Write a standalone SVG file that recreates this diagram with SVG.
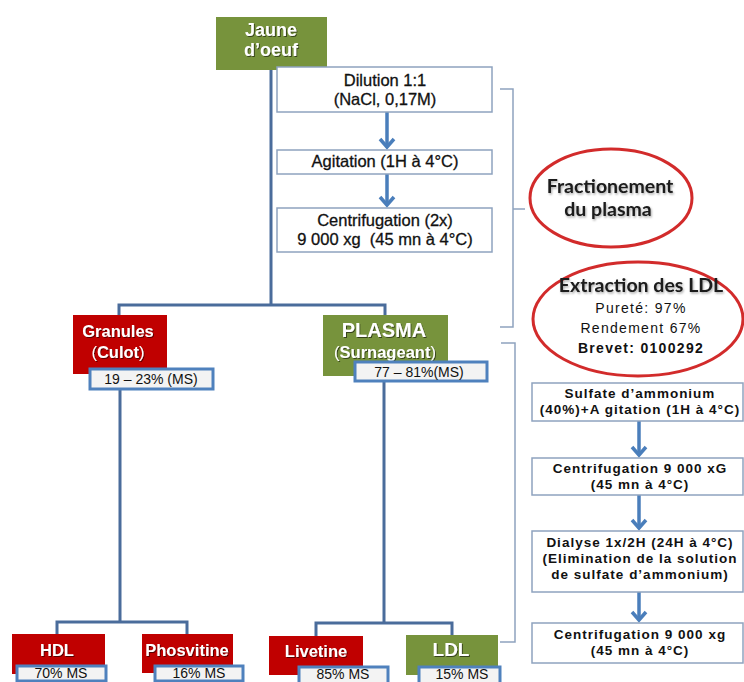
<svg xmlns="http://www.w3.org/2000/svg" width="744" height="682" viewBox="0 0 744 682">
<defs>
<marker id="ah" markerUnits="userSpaceOnUse" viewBox="-10 -9 12 18" refX="0" refY="0" markerWidth="12" markerHeight="18" orient="auto" overflow="visible">
<path d="M-8,-7 L0,0 L-8,7" fill="none" stroke="#4a7ebb" stroke-width="3.5"/>
</marker>
<filter id="ts" x="-10%" y="-30%" width="130%" height="160%"><feDropShadow dx="1" dy="1" stdDeviation="0.7" flood-color="#000" flood-opacity="0.55"/></filter>
<filter id="gs" x="-10%" y="-30%" width="130%" height="160%"><feDropShadow dx="1" dy="1.5" stdDeviation="1.2" flood-color="#000" flood-opacity="0.35"/></filter>
<style>
.proc{fill:#fff;stroke:#8ea3bf;stroke-width:1.5}
.ltxt{font-family:"Liberation Sans",Arial,sans-serif;font-size:16.5px;fill:#111;stroke:#111;stroke-width:0.3;text-anchor:middle}
.rtxt{font-family:"Liberation Sans",Arial,sans-serif;font-size:13.5px;font-weight:bold;fill:#111;text-anchor:middle;letter-spacing:1px}
.red{fill:#c00000}
.green{fill:#77933c}
.wl{font-family:"Liberation Sans",Arial,sans-serif;font-weight:bold;fill:#fff;text-anchor:middle;filter:url(#ts)}
.pct{fill:#f3f3f3;stroke:#4f81bd;stroke-width:3}
.ptxt{font-family:"Liberation Sans",Arial,sans-serif;font-size:14px;fill:#111;text-anchor:middle}
.tree{fill:none;stroke:#4a6c9b;stroke-width:3}
.arrow{stroke:#4a7ebb;stroke-width:3.5;marker-end:url(#ah)}
.brace{fill:none;stroke:#8ea3bf;stroke-width:1.5}
.oval{fill:#fff;stroke:#d22b2b;stroke-width:3}
.otitle{font-family:Lato,"Open Sans",sans-serif;font-weight:bold;fill:#1a1a1a;text-anchor:middle;font-size:19.5px;filter:url(#gs)}
.osub{font-family:"Liberation Sans",Arial,sans-serif;font-size:14px;fill:#111;text-anchor:middle;letter-spacing:1.3px}
</style>
</defs>
<rect width="744" height="682" fill="#fff"/>

<g id="connectors">
<path class="tree" d="M271,70 V305 M119,315 V305 H385 V315"/>
<path class="tree" d="M120,389 V622 M57,634 V622 H187 V634"/>
<path class="tree" d="M384,381 V623 M316,636 V623 H452 V635"/>
<line class="arrow" x1="387" y1="112" x2="387" y2="147"/>
<line class="arrow" x1="387" y1="174" x2="387" y2="205"/>
<line class="arrow" x1="639" y1="421" x2="639" y2="455"/>
<line class="arrow" x1="639" y1="495" x2="639" y2="528"/>
<line class="arrow" x1="639" y1="592" x2="639" y2="620"/>
<path class="brace" d="M500,89 H513 V327 H500 M513,209 H525"/>
<path class="brace" d="M501,343 H515 V642 H500"/>
</g>

<g id="jaune">
<rect class="green" x="216" y="17" width="111" height="53"/>
<text class="wl" x="271" y="36" font-size="18">Jaune</text>
<text class="wl" x="271" y="56" font-size="18">d’oeuf</text>
</g>

<g id="dilution">
<rect class="proc" x="277" y="67" width="215" height="45"/>
<text class="ltxt" x="385" y="86">Dilution 1:1</text>
<text class="ltxt" x="385" y="105">(NaCl, 0,17M)</text>
</g>

<g id="agitation">
<rect class="proc" x="277" y="150" width="215" height="24"/>
<text class="ltxt" x="385" y="167">Agitation (1H à 4°C)</text>
</g>

<g id="centrifugation1">
<rect class="proc" x="277" y="208" width="215" height="44"/>
<text class="ltxt" x="385" y="226">Centrifugation (2x)</text>
<text class="ltxt" x="385" y="245" xml:space="preserve">9 000 xg  (45 mn à 4°C)</text>
</g>

<g id="fractionnement">
<ellipse class="oval" cx="611" cy="198" rx="81" ry="49"/>
<text class="otitle" x="610" y="193">Fractionement</text>
<text class="otitle" x="608" y="216">du plasma</text>
</g>

<g id="extraction">
<ellipse class="oval" cx="638" cy="319" rx="105" ry="57"/>
<text class="otitle" x="641" y="292">Extraction des LDL</text>
<text class="osub" x="641" y="313">Pureté: 97%</text>
<text class="osub" x="641" y="333">Rendement 67%</text>
<text class="osub" x="641" y="353" font-weight="bold">Brevet: 0100292</text>
</g>

<g id="granules">
<rect class="red" x="73" y="315" width="94" height="59"/>
<text class="wl" x="118" y="337" font-size="16.5">Granules</text>
<text class="wl" x="118" y="358" font-size="16.5"><tspan font-weight="normal">(</tspan>Culot<tspan font-weight="normal">)</tspan></text>
<rect class="pct" x="90" y="369" width="123" height="20"/>
<text class="ptxt" x="151" y="384">19 – 23% (MS)</text>
</g>

<g id="plasma">
<rect class="green" x="323" y="315" width="125" height="61"/>
<text class="wl" x="384" y="337" font-size="20">PLASMA</text>
<text class="wl" x="385" y="358" font-size="16.5"><tspan font-weight="normal">(</tspan>Surnageant<tspan font-weight="normal">)</tspan></text>
<rect class="pct" x="355" y="362" width="132" height="19"/>
<text class="ptxt" x="419" y="377">77 – 81%(MS)</text>
</g>

<g id="sulfate">
<rect class="proc" x="532" y="383" width="211" height="38"/>
<text class="rtxt" x="640" y="398">Sulfate d’ammonium</text>
<text class="rtxt" x="640" y="414">(40%)+A gitation (1H à 4°C)</text>
</g>

<g id="centrifugation2">
<rect class="proc" x="532" y="458" width="211" height="37"/>
<text class="rtxt" x="640" y="473">Centrifugation 9 000 xG</text>
<text class="rtxt" x="640" y="489">(45 mn à 4°C)</text>
</g>

<g id="dialyse">
<rect class="proc" x="532" y="531" width="211" height="61"/>
<text class="rtxt" x="640" y="547">Dialyse 1x/2H (24H à 4°C)</text>
<text class="rtxt" x="640" y="563">(Elimination de la solution</text>
<text class="rtxt" x="640" y="579">de sulfate d’ammonium)</text>
</g>

<g id="centrifugation3">
<rect class="proc" x="532" y="623" width="211" height="40"/>
<text class="rtxt" x="640" y="639">Centrifugation 9 000 xg</text>
<text class="rtxt" x="640" y="655">(45 mn à 4°C)</text>
</g>

<g id="hdl">
<rect class="red" x="12" y="634" width="93" height="40"/>
<text class="wl" x="57" y="656" font-size="16.5">HDL</text>
<rect class="pct" x="17" y="666" width="89" height="15"/>
<text class="ptxt" x="61" y="678">70% MS</text>
</g>

<g id="phosvitine">
<rect class="red" x="142" y="634" width="91" height="39"/>
<text class="wl" x="187" y="656" font-size="16.5">Phosvitine</text>
<rect class="pct" x="155" y="666" width="88" height="15"/>
<text class="ptxt" x="199" y="678">16% MS</text>
</g>

<g id="livetine">
<rect class="red" x="269" y="636" width="94" height="39"/>
<text class="wl" x="316" y="657" font-size="16.5">Livetine</text>
<rect class="pct" x="299" y="667" width="89" height="17"/>
<text class="ptxt" x="343" y="679">85% MS</text>
</g>

<g id="ldl">
<rect class="green" x="406" y="635" width="92" height="40"/>
<text class="wl" x="451" y="656" font-size="19">LDL</text>
<rect class="pct" x="419" y="667" width="81" height="17"/>
<text class="ptxt" x="462" y="679">15% MS</text>
</g>
</svg>
